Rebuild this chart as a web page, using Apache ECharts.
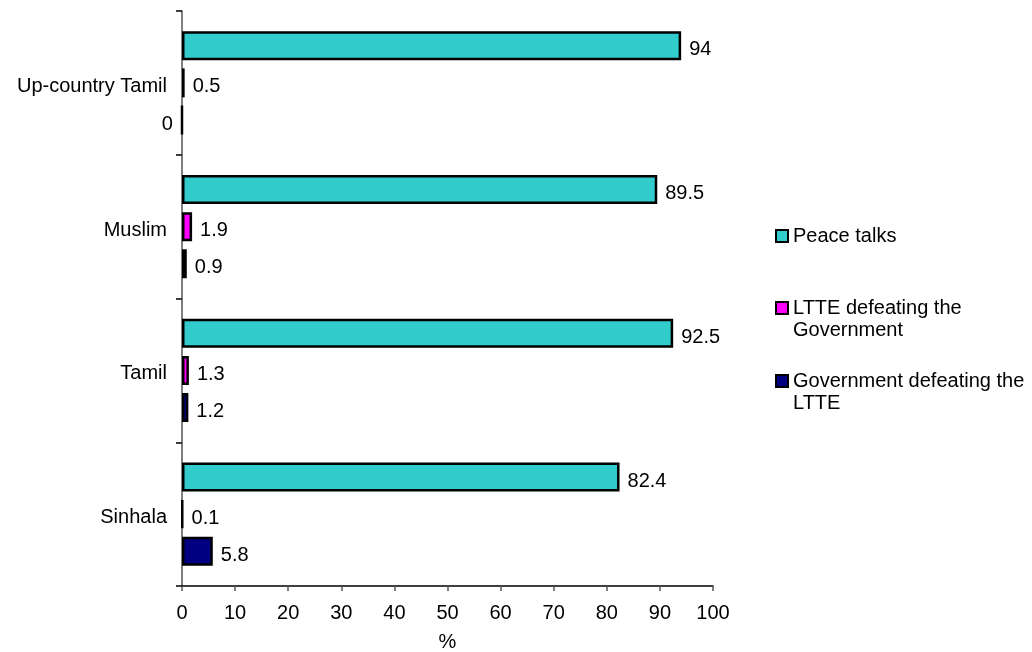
<!DOCTYPE html>
<html>
<head>
<meta charset="utf-8">
<script src="https://cdn.jsdelivr.net/npm/echarts@6/dist/echarts.min.js"></script>
<style>
  html, body { margin: 0; padding: 0; background: #ffffff; }
  #chart { width: 1032px; height: 652px; }
</style>
</head>
<body>
<div id="chart"></div>
<script>
// Groups, listed bottom to top along the category axis
const groups = ['Sinhala', 'Tamil', 'Muslim', 'Up-country Tamil'];

// Share of respondents (%) preferring each way to end the conflict
const peaceTalks = [82.4, 92.5, 89.5, 94];
const ltteWins = [0.1, 1.3, 1.9, 0.5];
const governmentWins = [5.8, 1.2, 0.9, 0];

const seriesNames = [
  'Peace talks',
  'LTTE defeating the\nGovernment',
  'Government defeating the\nLTTE'
];
const xTicks = { min: 0, max: 100, step: 10 };

const FONT = '"Liberation Sans", Arial, sans-serif';
const FONT_SIZE = 20;
const colors = ['#33CCCC', '#FF00FF', '#000080'];

function barSeries(name, values, color) {
  return {
    type: 'bar',
    name: name,
    data: values.map(v => {
      const item = { value: v };
      // a zero value has no bar to sit beside, so its label goes left of the axis
      if (v === 0) item.label = { position: 'left', distance: 8 };
      return item;
    }),
    barWidth: 29,
    barGap: '28%',
    itemStyle: { color: color, borderColor: '#000000', borderWidth: 2.5 },
    label: {
      show: true,
      position: 'right',
      distance: 8,
      offset: [0, 4],
      color: '#000000',
      fontFamily: FONT,
      fontSize: FONT_SIZE
    },
    emphasis: { disabled: true }
  };
}

// One legend block per series; two-line names get an empty first line so
// the swatch lines up with the first line of text.
function legendFor(name, top) {
  const multiLine = name.indexOf('\n') >= 0;
  return {
    data: [name],
    orient: 'vertical',
    left: 775,
    top: top,
    padding: 0,
    itemWidth: 12,
    itemHeight: 12,
    itemGap: 8,
    selectedMode: false,
    formatter: n => (multiLine ? '\n' + n : n),
    textStyle: {
      fontFamily: FONT,
      fontSize: FONT_SIZE,
      color: '#000000',
      lineHeight: 22
    },
    icon: 'rect',
    itemStyle: { borderColor: '#000000', borderWidth: 2 }
  };
}

const chart = echarts.init(document.getElementById('chart'), null, { renderer: 'canvas' });

chart.setOption({
  backgroundColor: '#ffffff',
  animation: false,
  textStyle: { fontFamily: FONT },
  grid: {
    left: 182, top: 11, width: 531, height: 575,
    containLabel: false,
    outerBoundsMode: 'none'
  },
  legend: [
    legendFor(seriesNames[0], 225),
    legendFor(seriesNames[1], 275),
    legendFor(seriesNames[2], 348)
  ],
  xAxis: {
    type: 'value',
    min: xTicks.min,
    max: xTicks.max,
    interval: xTicks.step,
    name: '%',
    nameLocation: 'middle',
    nameGap: 46,
    nameTextStyle: { fontFamily: FONT, fontSize: FONT_SIZE, color: '#000000' },
    axisLine: { show: true, lineStyle: { color: '#000000', width: 1.5 } },
    axisTick: { show: true, length: 5, lineStyle: { color: '#555555', width: 1.5 } },
    axisLabel: { fontFamily: FONT, fontSize: FONT_SIZE, color: '#000000', margin: 17 },
    splitLine: { show: false }
  },
  yAxis: {
    type: 'category',
    data: groups,
    axisLine: { show: true, lineStyle: { color: '#555555', width: 1.5 } },
    axisTick: { show: true, length: 6, lineStyle: { color: '#000000', width: 1.5 } },
    axisLabel: {
      margin: 15,
      formatter: v => '{g|' + v + '}',
      rich: {
        g: {
          fontFamily: FONT, fontSize: FONT_SIZE, color: '#000000',
          padding: [7, 0, 0, 0]
        }
      }
    }
  },
  series: [
    barSeries(seriesNames[0], peaceTalks, colors[0]),
    barSeries(seriesNames[1], ltteWins, colors[1]),
    barSeries(seriesNames[2], governmentWins, colors[2])
  ]
});
</script>
</body>
</html>
